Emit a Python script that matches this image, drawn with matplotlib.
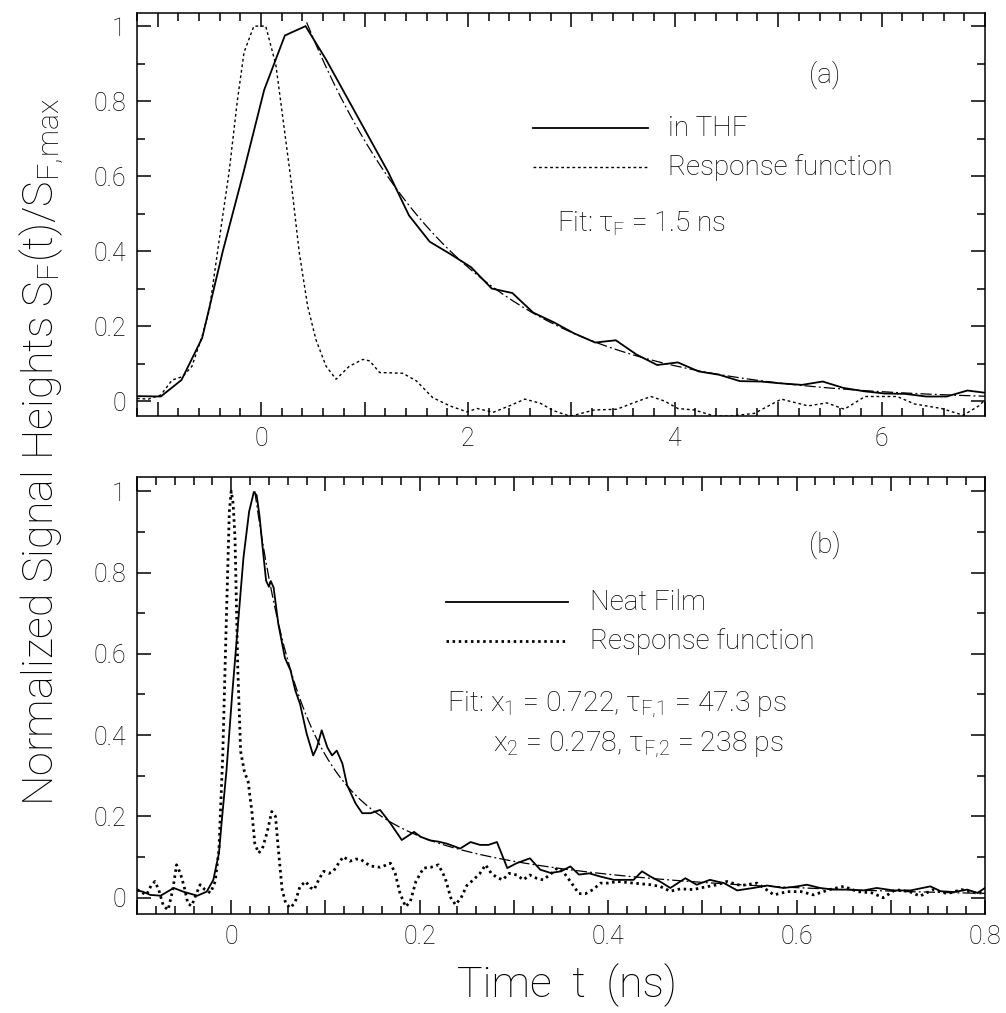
import numpy as np
import matplotlib
matplotlib.use("Agg")
import matplotlib.pyplot as plt
from matplotlib.ticker import MultipleLocator, FuncFormatter
from matplotlib.lines import Line2D

plt.rcParams['font.family'] = ['Roboto', 'DejaVu Sans']
plt.rcParams['font.weight'] = 'light'
plt.rcParams['mathtext.fontset'] = 'custom'
plt.rcParams['mathtext.rm'] = 'Roboto:light'
plt.rcParams['mathtext.it'] = 'Roboto:light'

# ---------------- panel (a): solution in THF ----------------
t_thf = [-1.2, -0.97, -0.77, -0.57, -0.37, -0.17, 0.03, 0.23, 0.43, 0.63,
         0.83, 1.03, 1.23, 1.43, 1.63, 1.83, 2.03, 2.23, 2.43, 2.63,
         2.83, 3.03, 3.23, 3.43, 3.63, 3.83, 4.03, 4.23, 4.43, 4.63,
         4.83, 5.03, 5.23, 5.43, 5.63, 5.83, 6.03, 6.23, 6.43, 6.63,
         6.83, 7.0]
s_thf = [0.013, 0.012, 0.056, 0.168, 0.40, 0.61, 0.83, 0.975, 1.0, 0.91,
         0.81, 0.71, 0.61, 0.495, 0.425, 0.392, 0.357, 0.30, 0.288, 0.236,
         0.21, 0.18, 0.156, 0.162, 0.124, 0.096, 0.103, 0.079, 0.07, 0.053,
         0.052, 0.047, 0.043, 0.052, 0.035, 0.026, 0.02, 0.019, 0.012, 0.012,
         0.028, 0.022]

t_resp_a = [-1.2, -1.09, -0.97, -0.86, -0.76, -0.67, -0.57, -0.5, -0.41, -0.31,
            -0.23, -0.165, -0.07, 0.045, 0.143, 0.207, 0.288, 0.369, 0.45, 0.53,
            0.628, 0.725, 0.854, 0.984, 1.05, 1.146, 1.37, 1.5, 1.66, 1.825,
            1.99, 2.09, 2.246, 2.41, 2.55, 2.70, 2.83, 2.96, 3.0, 3.22,
            3.44, 3.6, 3.77, 3.9, 4.03, 4.19, 4.38, 4.55, 4.77, 5.03,
            5.29, 5.47, 5.64, 5.84, 6.0, 6.15, 6.32, 6.58, 6.79, 6.94,
            7.0]
s_resp_a = [0.007, 0.005, 0.016, 0.056, 0.065, 0.092, 0.173, 0.244, 0.42, 0.61,
            0.80, 0.93, 1.0, 1.0, 0.896, 0.762, 0.591, 0.396, 0.253, 0.164,
            0.093, 0.058, 0.093, 0.111, 0.107, 0.076, 0.074, 0.054, 0.009, -0.013,
            -0.029, -0.02, -0.03, -0.012, 0.005, -0.006, -0.026, -0.038, -0.04, -0.024,
            -0.022, -0.005, 0.012, 0.0, -0.02, -0.024, -0.04, -0.04, -0.033, 0.005,
            -0.013, -0.005, -0.022, 0.012, 0.012, 0.012, -0.008, -0.02, -0.038, -0.013,
            0.003]

# mono-exponential fit
tau_a = 1.5          # ns
fit_a_start = 0.44   # ns
fit_a_amp = 1.01

# ---------------- panel (b): neat film ----------------
t_film = [-0.1, -0.094, -0.086, -0.075, -0.061, -0.051, -0.036, -0.026, -0.019, -0.013,
          -0.01, -0.005, 0.001, 0.006, 0.013, 0.019, 0.024, 0.027, 0.030, 0.033,
          0.037, 0.040, 0.042, 0.045, 0.05, 0.057, 0.063, 0.068, 0.073, 0.080,
          0.087, 0.091, 0.096, 0.102, 0.107, 0.112, 0.118, 0.123, 0.132, 0.139,
          0.148, 0.158, 0.169, 0.181, 0.194, 0.201, 0.211, 0.220, 0.229, 0.243,
          0.254, 0.264, 0.273, 0.282, 0.293, 0.303, 0.317, 0.328, 0.339, 0.35,
          0.36, 0.369, 0.38, 0.392, 0.406, 0.418, 0.427, 0.436, 0.445, 0.455,
          0.466, 0.482, 0.494, 0.508, 0.523, 0.537, 0.554, 0.569, 0.586, 0.598,
          0.611, 0.625, 0.639, 0.657, 0.671, 0.685, 0.703, 0.721, 0.742, 0.753,
          0.767, 0.781, 0.792, 0.8]
s_film = [0.018, 0.015, 0.007, 0.005, 0.024, 0.015, 0.005, 0.015, 0.044, 0.11,
          0.19, 0.314, 0.5, 0.64, 0.837, 0.95, 0.998, 0.99, 0.94, 0.869,
          0.78, 0.765, 0.779, 0.763, 0.673, 0.59, 0.559, 0.51, 0.477, 0.404,
          0.35, 0.37, 0.412, 0.37, 0.35, 0.362, 0.33, 0.277, 0.232, 0.208,
          0.208, 0.216, 0.183, 0.142, 0.162, 0.15, 0.141, 0.138, 0.133, 0.121,
          0.137, 0.13, 0.13, 0.137, 0.073, 0.085, 0.097, 0.069, 0.061, 0.065,
          0.077, 0.057, 0.06, 0.052, 0.044, 0.044, 0.044, 0.065, 0.052, 0.04,
          0.024, 0.048, 0.032, 0.044, 0.036, 0.018, 0.024, 0.03, 0.024, 0.027,
          0.032, 0.024, 0.02, 0.02, 0.018, 0.024, 0.018, 0.018, 0.028, 0.016,
          0.014, 0.02, 0.012, 0.024]

t_resp_b = [-0.1, -0.094, -0.09, -0.085, -0.081, -0.077, -0.072, -0.067, -0.062, -0.058,
            -0.054, -0.05, -0.046, -0.042, -0.037, -0.033, -0.028, -0.022, -0.017, -0.013,
            -0.009, -0.005, -0.002, 0.0, 0.002, 0.004, 0.007, 0.010, 0.014, 0.018,
            0.022, 0.025, 0.029, 0.033, 0.038, 0.043, 0.047, 0.050, 0.054, 0.058,
            0.063, 0.068, 0.073, 0.079, 0.084, 0.088, 0.093, 0.098, 0.104, 0.109,
            0.114, 0.119, 0.126, 0.132, 0.137, 0.143, 0.148, 0.158, 0.164, 0.169,
            0.174, 0.179, 0.185, 0.19, 0.196, 0.204, 0.212, 0.22, 0.227, 0.233,
            0.238, 0.244, 0.25, 0.257, 0.264, 0.27, 0.276, 0.282, 0.288, 0.295,
            0.303, 0.31, 0.317, 0.324, 0.331, 0.34, 0.346, 0.352, 0.36, 0.369,
            0.376, 0.384, 0.392, 0.4, 0.41, 0.427, 0.445, 0.455, 0.466, 0.477,
            0.49, 0.5, 0.516, 0.526, 0.541, 0.558, 0.568, 0.576, 0.59, 0.605,
            0.618, 0.635, 0.65, 0.665, 0.68, 0.692, 0.705, 0.72, 0.731, 0.745,
            0.76, 0.775, 0.79, 0.8]
s_resp_b = [0.02, 0.012, 0.007, 0.03, 0.04, 0.02, -0.02, -0.03, 0.02, 0.081,
            0.06, 0.028, -0.015, -0.02, 0.01, 0.032, 0.02, 0.012, 0.04, 0.12,
            0.35, 0.7, 0.95, 1.0, 0.97, 0.886, 0.56, 0.36, 0.31, 0.285,
            0.21, 0.134, 0.11, 0.12, 0.16, 0.212, 0.2, 0.12, 0.02, -0.015,
            -0.025, -0.01, 0.028, 0.04, 0.025, 0.02, 0.045, 0.065, 0.06, 0.067,
            0.085, 0.101, 0.09, 0.095, 0.095, 0.085, 0.078, 0.075, 0.08, 0.085,
            0.06, 0.012, -0.022, -0.01, 0.04, 0.073, 0.075, 0.081, 0.049, 0.0,
            -0.017, 0.0, 0.03, 0.044, 0.06, 0.081, 0.06, 0.05, 0.044, 0.06,
            0.056, 0.044, 0.056, 0.048, 0.044, 0.06, 0.073, 0.065, 0.04, 0.01,
            0.01, 0.02, 0.036, 0.036, 0.04, 0.036, 0.032, 0.028, 0.016, 0.022,
            0.02, 0.025, 0.032, 0.04, 0.03, 0.036, 0.02, 0.007, 0.015, 0.015,
            0.007, 0.02, 0.028, 0.015, 0.012, 0.0, 0.02, 0.015, 0.004, 0.02,
            0.01, 0.02, 0.012, 0.012]

# bi-exponential fit (times in ns)
x1, tau1 = 0.722, 0.0473
x2, tau2 = 0.278, 0.238
fit_b_start = 0.025

# ---------------- figure ----------------
W, H = 1006, 1013
fig = plt.figure(figsize=(W / 100, H / 100), dpi=100)
ax1 = fig.add_axes([137 / W, 1 - 416 / H, 848 / W, 403 / H])
ax2 = fig.add_axes([137 / W, 1 - 914 / H, 848 / W, 437 / H])

lw_data = 1.3
dashdot = (0, (9, 2.5, 1.5, 2.5))
dots_a = (0, (2, 2))
dots_b = (0, (0.9, 1.3))

# panel (a)
ax1.plot(t_thf, s_thf, color='black', lw=lw_data, solid_joinstyle='miter')
ax1.plot(t_resp_a, s_resp_a, color='black', lw=1.0, linestyle=dots_a)
tf = np.linspace(fit_a_start, 7.0, 300)
ax1.plot(tf, fit_a_amp * np.exp(-(tf - fit_a_start) / tau_a), color='black', lw=0.9,
         linestyle=dashdot)

# panel (b)
ax2.plot(t_film, s_film, color='black', lw=lw_data)
ax2.plot(t_resp_b, s_resp_b, color='black', lw=2.0, linestyle=dots_b)
tb = np.linspace(fit_b_start, 0.8, 400)
fit_b = x1 * np.exp(-(tb - fit_b_start) / tau1) + x2 * np.exp(-(tb - fit_b_start) / tau2)
ax2.plot(tb, fit_b, color='black', lw=0.9, linestyle=dashdot)

fmt = FuncFormatter(lambda v, p: '%g' % round(v, 3))
tick_fs = 18

for ax in (ax1, ax2):
    ax.set_ylim(-0.04, 1.035)
    ax.yaxis.set_major_locator(MultipleLocator(0.2))
    ax.yaxis.set_minor_locator(MultipleLocator(0.1))
    ax.yaxis.set_major_formatter(fmt)
    ax.tick_params(which='both', direction='in', top=True, right=True,
                   width=1.1, labelsize=tick_fs, color='black')
    ax.tick_params(which='major', length=10, pad=8)
    ax.tick_params(which='minor', length=6)
    for sp in ax.spines.values():
        sp.set_linewidth(1.1)

ax1.set_xlim(-1.2, 7.0)
ax1.xaxis.set_major_locator(MultipleLocator(1.0))
ax1.xaxis.set_minor_locator(MultipleLocator(0.2))
ax1.xaxis.set_major_formatter(FuncFormatter(
    lambda v, p: ('%g' % round(v, 3)) if abs(round(v) % 2) < 1e-9 else ''))

ax2.set_xlim(-0.1, 0.8)
ax2.xaxis.set_major_locator(MultipleLocator(0.1))
ax2.xaxis.set_minor_locator(MultipleLocator(0.02))
ax2.xaxis.set_major_formatter(FuncFormatter(
    lambda v, p: ('%g' % round(v, 3)) if abs(round(v * 10) % 2) < 1e-9 else ''))

text_fs = 20


def legend_rows(ax, rows, x0, x1, xt, ys):
    """Draw line samples with labels, all in axes coordinates."""
    for (label, kw), y in zip(rows, ys):
        ax.add_line(Line2D([x0, x1], [y, y], transform=ax.transAxes, color='black', **kw))
        ax.text(xt, y, label, transform=ax.transAxes, fontsize=text_fs,
                va='center', ha='left')


def ax_frac(left, top, w, h, px, py):
    return (px - left) / w, 1 - (py - top) / h


A1 = (137, 13, 848, 403)
A2 = (137, 477, 848, 437)

# legend and annotations (a)
xa0, ya0 = ax_frac(*A1, 533, 128)
xa1, ya1 = ax_frac(*A1, 648, 167)
xta, _ = ax_frac(*A1, 668, 0)
legend_rows(ax1, [('in THF', dict(lw=lw_data)),
                  ('Response function', dict(lw=1.0, linestyle=dots_a))],
            xa0, xa1, xta, [ya0, ya1])
xl, yl = ax_frac(*A1, 825, 75)
ax1.text(xl, yl, '(a)', transform=ax1.transAxes, fontsize=text_fs, ha='center', va='center')
xf, yf = ax_frac(*A1, 557, 224)
ax1.text(xf, yf, r'Fit: $\tau_\mathrm{F}$ = 1.5 ns', transform=ax1.transAxes,
         fontsize=text_fs, ha='left', va='center')

# legend and annotations (b)
xb0, yb0 = ax_frac(*A2, 446, 602)
xb1, yb1 = ax_frac(*A2, 568, 641)
xtb, _ = ax_frac(*A2, 590, 0)
legend_rows(ax2, [('Neat Film', dict(lw=lw_data)),
                  ('Response function', dict(lw=2.0, linestyle=dots_b))],
            xb0, xb1, xtb, [yb0, yb1])
xl, yl = ax_frac(*A2, 825, 545)
ax2.text(xl, yl, '(b)', transform=ax2.transAxes, fontsize=text_fs, ha='center', va='center')
xf, yf = ax_frac(*A2, 447, 704)
ax2.text(xf, yf, r'Fit: x$_1$ = 0.722, $\tau_\mathrm{F,\!1}$ = 47.3 ps',
         transform=ax2.transAxes, fontsize=20.5, ha='left', va='center')
xf2, yf2 = ax_frac(*A2, 493, 744)
ax2.text(xf2, yf2, r'x$_2$ = 0.278, $\tau_\mathrm{F,\!2}$ = 238 ps',
         transform=ax2.transAxes, fontsize=20.5, ha='left', va='center')

# axis titles
fig.text(42 / W, 1 - 452 / H,
         r'Normalized Signal Heights S$_\mathrm{F}$(t)/S$_\mathrm{F,\!max}$',
         rotation=90, fontsize=31, ha='center', va='center')
fig.text(567 / W, 1 - 985 / H, 'Time  t  (ns)', fontsize=31, ha='center', va='center')

fig.savefig('out.png', dpi=100)
